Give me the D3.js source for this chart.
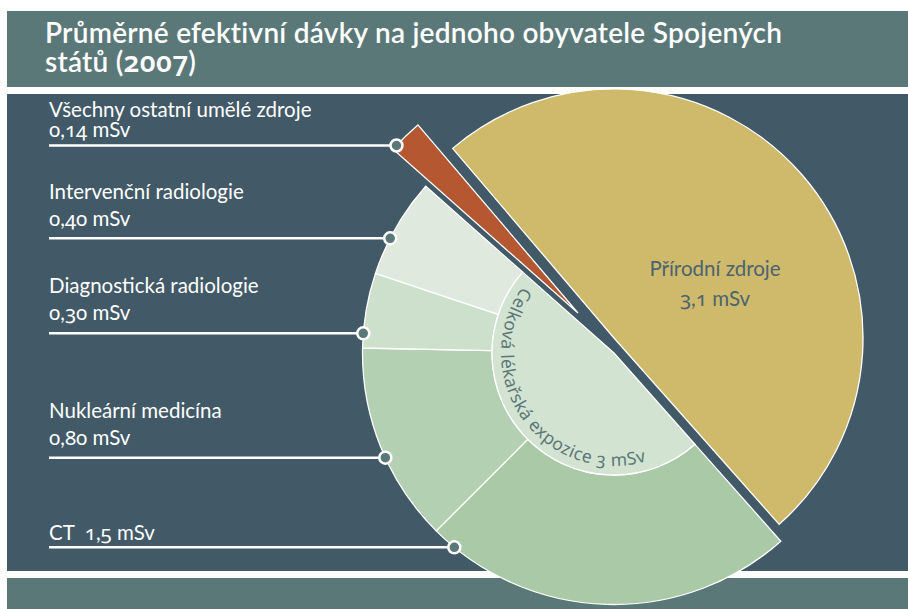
<!DOCTYPE html>
<html>
<head>
<meta charset="utf-8">
<script src="https://cdn.jsdelivr.net/npm/d3@7"></script>
<style>
  body { margin: 0; background: #fff; }
  svg { display: block; font-family: Lato, "Noto Sans", sans-serif; }
  .num { font-family: "Noto Sans", sans-serif; font-variant-numeric: oldstyle-nums; font-feature-settings: "onum" 1; }
</style>
</head>
<body>
<svg id="chart" width="908" height="609"></svg>
<script>
// Data (mSv per person, USA 2007)
const topCategories = ["Přírodní zdroje", "Celková lékařská expozice", "Všechny ostatní umělé zdroje"];
const topValues = [3.1, 3.0, 0.14];
const topLabels = ["3,1 mSv", "3 mSv", "0,14 mSv"];

const medCategories = ["CT", "Nukleární medicína", "Diagnostická radiologie", "Intervenční radiologie"];
const medValues = [1.5, 0.8, 0.3, 0.4];
const medLabels = ["1,5 mSv", "0,80 mSv", "0,30 mSv", "0,40 mSv"];

const title = ["Průměrné efektivní dávky na jednoho obyvatele Spojených", "států (2007)"];

const svg = d3.select("#chart"),
      W = +svg.attr("width"), H = +svg.attr("height");

const deg = Math.PI / 180;

// puts text into a text/tspan node, digits get old-style figures
function richText(sel, str) {
  str.split(/(\d+)/).filter(s => s.length).forEach(part => {
    const t = sel.append("tspan").text(part);
    if (/^\d+$/.test(part)) t.attr("class", "num");
  });
}

// backgrounds
svg.append("rect").attr("x", 7).attr("y", 11).attr("width", W - 7).attr("height", 76).attr("fill", "#5b7879");
svg.append("rect").attr("x", 7).attr("y", 94).attr("width", W - 7).attr("height", 477).attr("fill", "#425a67");
svg.append("rect").attr("x", 7).attr("y", 578).attr("width", W - 7).attr("height", 31).attr("fill", "#5b7879");

// title
title.forEach((t, i) => {
  const tx = svg.append("text")
    .attr("x", 45).attr("y", 42.5 + i * 29)
    .attr("fill", "#fff")
    .style("font-size", "28px").style("font-weight", "600")
    .style("letter-spacing", "0.25px");
  richText(tx, t);
});

// pie layout
const center = {x: 614, y: 345};
const offsets = [{dx: 0, dy: -7}, {dx: 0, dy: 8}, {dx: -36, dy: -32}];
const radii = [249, 251.5, 247];
const innerR = 122;
const topColors = ["#cfb96a", "#d3e3d1", "#b55731"];
const medColors = ["#a9c9a7", "#b3d1b2", "#cde0cb", "#dfe9de"];

const a0 = -40.4 * deg;
const pie = d3.pie().sort(null).startAngle(a0).endAngle(a0 + 2 * Math.PI);
const arcsTop = pie(topValues);

const gTop = svg.append("g");
arcsTop.forEach((d, i) => {
  const g = gTop.append("g")
    .attr("transform", `translate(${center.x + offsets[i].dx},${center.y + offsets[i].dy})`);
  if (i === 1) {
    // medical: outer ring by subcategory, inner sector total
    const medArcs = d3.pie().sort(null).startAngle(d.startAngle).endAngle(d.endAngle)(medValues);
    const ring = d3.arc().innerRadius(innerR).outerRadius(radii[i]);
    g.selectAll("path.med").data(medArcs).enter().append("path")
      .attr("class", "med")
      .attr("d", ring)
      .attr("fill", (m, j) => medColors[j])
      .attr("stroke", "#fff").attr("stroke-width", 1.3);
    g.append("path")
      .attr("d", d3.arc().innerRadius(0).outerRadius(innerR)(d))
      .attr("fill", topColors[i])
      .attr("stroke", "#fff").attr("stroke-width", 1.3);
    // curved label
    const rT = 113, s = -53 * deg, e = -215 * deg;
    const p = d3.path();
    p.arc(0, 0, rT, s - Math.PI / 2, e - Math.PI / 2, true);
    g.append("path").attr("id", "medArc").attr("d", p.toString()).attr("fill", "none");
    g.append("text")
      .attr("class", "num")
      .attr("fill", "#5b7879").style("font-size", "17.5px")
      .style("letter-spacing", "0.5px")
      .append("textPath").attr("href", "#medArc").attr("startOffset", 2)
      .text(topCategories[i] + " " + topLabels[i]);
  } else {
    g.append("path")
      .attr("d", d3.arc().innerRadius(0).outerRadius(radii[i])(d))
      .attr("fill", topColors[i])
      .attr("stroke", "#fff").attr("stroke-width", 1.3);
  }
});

// natural sources label inside the slice
[topCategories[0], topLabels[0]].forEach((t, k) => {
  const tx = svg.append("text")
    .attr("x", 715).attr("y", 276 + k * 30)
    .attr("fill", "#4b6470").attr("text-anchor", "middle")
    .style("font-size", "20.5px");
  richText(tx, t);
});

// left labels with leader lines
const labelLeft = 49;
const leaders = [
  {lines: [topCategories[2], topLabels[2]], lineY: 145.5, base: [116.5, 136.5], slice: 2},
  {lines: [medCategories[3], medLabels[3]], lineY: 238.3, base: [199.3, 226], slice: 1},
  {lines: [medCategories[2], medLabels[2]], lineY: 333.3, base: [293.3, 320], slice: 1},
  {lines: [medCategories[1], medLabels[1]], lineY: 457.7, base: [418.3, 445], slice: 1},
  {lines: [medCategories[0] + "\u00a0 " + medLabels[0]], lineY: 547.3, base: [540], slice: 1}
];

const gL = svg.append("g");
leaders.forEach(L => {
  const cx = center.x + offsets[L.slice].dx, cy = center.y + offsets[L.slice].dy,
        r = radii[L.slice];
  const x = cx - Math.sqrt(r * r - (L.lineY - cy) ** 2);
  gL.append("line")
    .attr("x1", labelLeft).attr("x2", x)
    .attr("y1", L.lineY).attr("y2", L.lineY)
    .attr("stroke", "#fff").attr("stroke-width", 2.5);
  gL.append("circle")
    .attr("cx", x).attr("cy", L.lineY).attr("r", 6)
    .attr("fill", "#5b7879").attr("stroke", "#fff").attr("stroke-width", 2.5);
  const tx = gL.append("text")
    .attr("fill", "#fff").style("font-size", "20.5px");
  L.lines.forEach((t, k) => {
    richText(tx.append("tspan").attr("x", labelLeft).attr("y", L.base[k]), t);
  });
});
</script>
</body>
</html>
